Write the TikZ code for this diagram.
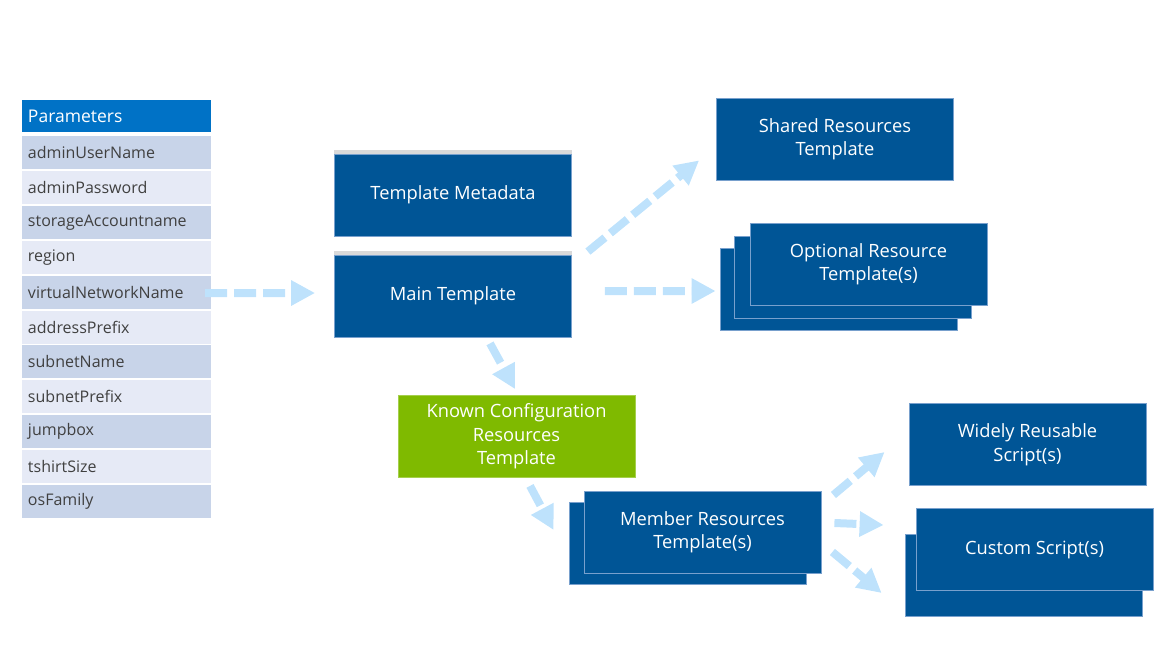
\documentclass[tikz,border=0pt]{standalone}
\usepackage{fontspec}
\setmainfont{Open Sans}
\usetikzlibrary{arrows.meta}
\definecolor{boxblue}{RGB}{0,85,150}
\definecolor{boxline}{RGB}{120,160,205}
\definecolor{kgreen}{RGB}{127,186,0}
\definecolor{hdrblue}{RGB}{0,114,198}
\definecolor{rowa}{RGB}{200,212,233}
\definecolor{rowb}{RGB}{230,234,246}
\definecolor{flowblue}{RGB}{190,226,252}
\definecolor{stripgray}{RGB}{217,217,217}
\begin{document}
\begin{tikzpicture}[x=1bp,y=-1bp,
  box/.style={fill=boxblue,draw=boxline,line width=0.8bp,minimum width=237bp,minimum height=82bp,inner sep=0pt,text=white,align=center,font=\fontsize{18.3bp}{23.5bp}\selectfont},
  param/.style={minimum height=33bp,text width=177bp,inner xsep=6bp,inner ysep=0pt,align=left,text=black!75,font=\fontsize{16bp}{19bp}\selectfont},
  flow/.style={draw=flowblue,line width=8bp,dash pattern=on 22bp off 7bp,-{Triangle[length=24bp,width=24bp]}}]
\useasboundingbox (0,0) rectangle (1163,653);
\node[param,fill=hdrblue,text=white,minimum height=32bp,font=\fontsize{17.5bp}{20bp}\selectfont] (hdr) at (116.5,116) {Parameters};
\foreach \i/\v/\c in {0/adminUserName/rowa,1/adminPassword/rowb,2/storageAccountname/rowa,3/region/rowb,4/virtualNetworkName/rowa,5/addressPrefix/rowb,6/subnetName/rowa,7/subnetPrefix/rowb,8/jumpbox/rowa,9/tshirtSize/rowb,10/osFamily/rowa}
  \node[param,fill=\c] (p\i) at (116.5,152.5+34.9*\i) {\v};
\node[box] (meta) at (453,195) {Template Metadata};
\fill[stripgray] ([yshift=4bp]meta.north west) rectangle (meta.north east);
\node[box] (main) at (453,296) {Main Template};
\fill[stripgray] ([yshift=4bp]main.north west) rectangle (main.north east);
\node[box] (shared) at (835,139) {Shared Resources\\Template};
% stacked boxes, back to front
\node[box] (optc) at (839,289) {};
\node[box] (optb) at (853,277) {};
\node[box] (opt) at (868.5,264) {Optional Resource\\Template(s)};
\node[box,fill=kgreen,draw=kgreen!70!white] (known) at (516.5,436.5) {Known Configuration\\Resources\\Template};
\node[box] (membb) at (688,543) {};
\node[box] (memb) at (702.5,532) {Member Resources\\Template(s)};
\node[box] (wide) at (1027.5,444.5) {Widely Reusable\\Script(s)};
\node[box] (cusb) at (1024,575.5) {};
\node[box] (cus) at (1034.5,549.5) {Custom Script(s)};
\draw[flow] ([xshift=-6bp,yshift=-1bp]p4.east) -- ([xshift=-19bp,yshift=3bp]main.west);
\draw[flow] ([xshift=16bp,yshift=3bp]main.north east) -- ([xshift=-17bp,yshift=20bp]shared.south west);
\draw[flow] ([xshift=33bp,yshift=5bp]main.east) -- ([xshift=-4.5bp,yshift=-2bp]optc.west);
\draw[flow] ([xshift=37bp,yshift=-6bp]main.south) -- ([xshift=-1.5bp,yshift=6bp]known.north);
\draw[flow] ([xshift=13.5bp,yshift=-8bp]known.south) -- ([xshift=-15.5bp,yshift=13bp]membb.west);
\draw[flow] ([xshift=12bp,yshift=37bp]memb.east) -- ([xshift=-24bp,yshift=-7.5bp]wide.west);
\draw[flow] ([xshift=13bp,yshift=9bp]memb.east) -- ([xshift=-32bp,yshift=24.5bp]cus.west);
\draw[flow] ([xshift=11bp,yshift=-20bp]memb.east) -- ([xshift=-23.5bp,yshift=-17.5bp]cusb.west);
\end{tikzpicture}
\end{document}
